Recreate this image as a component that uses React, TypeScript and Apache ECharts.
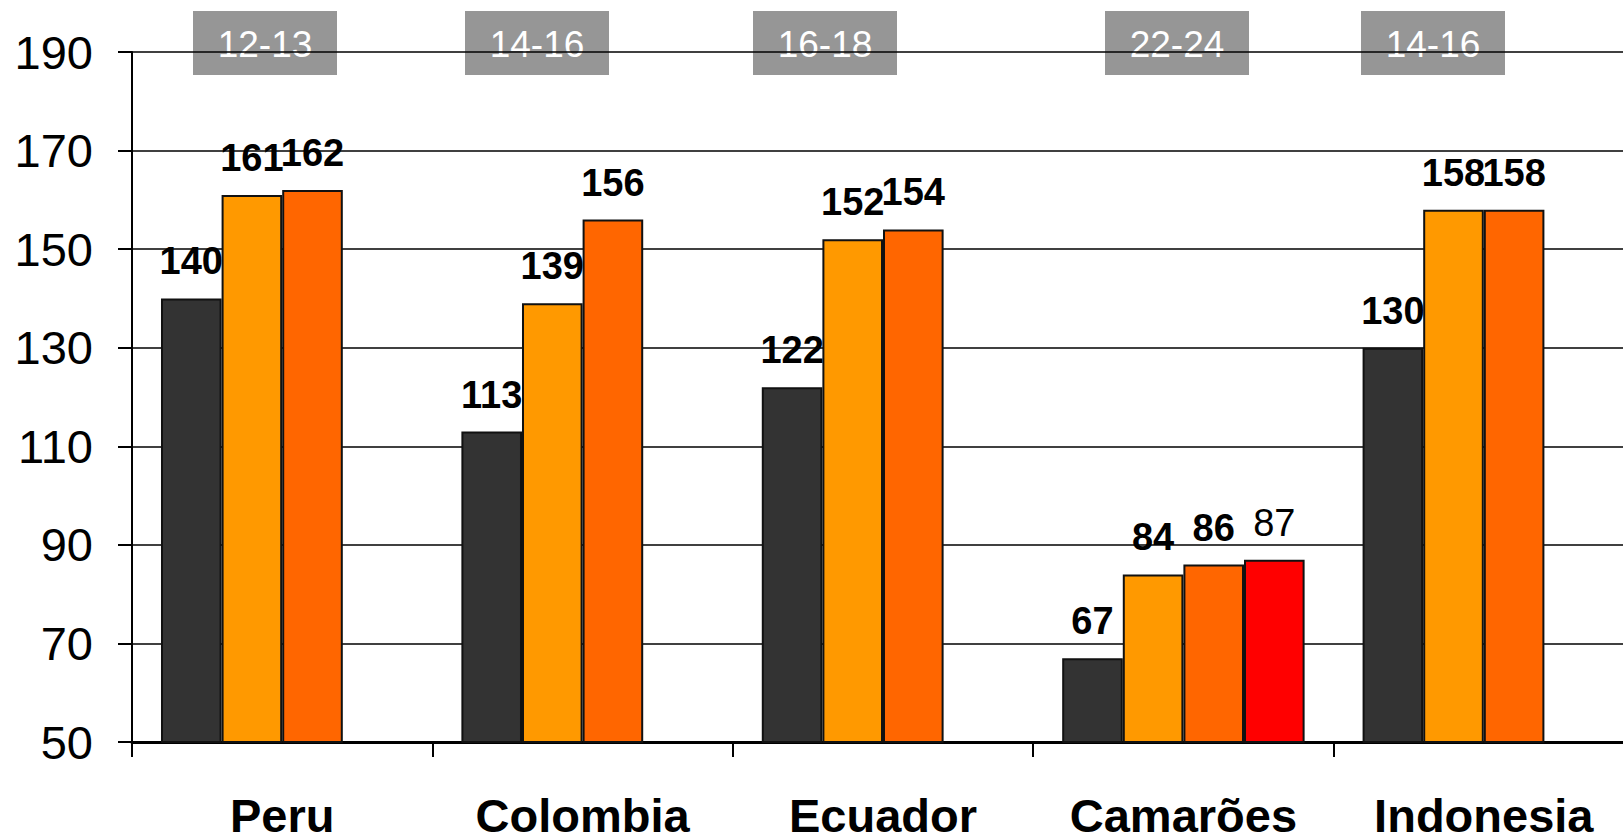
import React, { useEffect, useRef } from "react";
import * as echarts from "echarts";

const categories = ["Peru", "Colombia", "Ecuador", "Camarões", "Indonesia"];
const seriesA = [140, 113, 122, 67, 130];
const seriesB = [161, 139, 152, 84, 158];
const seriesC = [162, 156, 154, 86, 158];
const seriesD = [null, null, null, 87, null];
const rangeLabels = ["12-13", "14-16", "16-18", "22-24", "14-16"];
const rangeBoxX = [193, 465, 753, 1105, 1361];

export default function App() {
  const ref = useRef<HTMLDivElement>(null);
  useEffect(() => {
    if (!ref.current) return;
    const chart = echarts.init(ref.current, undefined, { renderer: "svg" });
    const FONT = "Liberation Sans, Arial, sans-serif";
    const labelBase = {
      show: true,
      position: "top",
      distance: 18,
      fontSize: 38,
      fontWeight: "bold",
      color: "#000",
      fontFamily: FONT,
    };
    const mk = (name: string, data: (number | null)[], color: string, bold = true) => ({
      name,
      type: "bar",
      data,
      barGap: "0%",
      barCategoryGap: "19.3%",
      itemStyle: { color, borderColor: "#111", borderWidth: 2 },
      label: { ...labelBase, fontWeight: bold ? "bold" : "normal" },
    });
    chart.setOption({
      animation: false,
      backgroundColor: "#fff",
      textStyle: { fontFamily: FONT },
      grid: { left: 132, top: 52, height: 693, width: 1502 },
      xAxis: {
        type: "category",
        data: categories,
        axisLine: { lineStyle: { color: "#000", width: 3 } },
        axisTick: { show: true, length: 15, lineStyle: { color: "#000", width: 2 } },
        axisLabel: {
          fontSize: 47,
          fontWeight: "bold",
          color: "#000",
          margin: 50,
          verticalAlign: "top",
          fontFamily: FONT,
        },
      },
      yAxis: {
        type: "value",
        min: 50,
        max: 190,
        interval: 20,
        axisLine: { show: true, lineStyle: { color: "#000", width: 2 } },
        axisTick: { show: true, length: 14, lineStyle: { color: "#000", width: 2 } },
        axisLabel: {
          fontSize: 47,
          color: "#000",
          margin: 39,
          fontFamily: FONT,
        },
        splitLine: { show: true, lineStyle: { color: "#000", width: 1.5 } },
      },
      series: [
        mk("A", seriesA, "#333333"),
        mk("B", seriesB, "#FF9900"),
        mk("C", seriesC, "#FF6600"),
        mk("D", seriesD, "#FF0000", false),
      ],
      graphic: rangeLabels.map((t, i) => ({
        type: "group",
        x: rangeBoxX[i],
        y: 11,
        z: 100,
        children: [
          { type: "rect", shape: { x: 0, y: 0, width: 144, height: 64 }, style: { fill: "#969696" } },
          {
            type: "text",
            x: 72,
            y: 33,
            style: {
              text: t,
              fill: "#ffffff",
              fontSize: 37,
              fontFamily: FONT,
              align: "center",
              verticalAlign: "middle",
            },
          },
        ],
      })),
    });
    return () => chart.dispose();
  }, []);
  return (
    <div style={{ position: "fixed", left: 0, top: 0, width: 1623, height: 839, overflow: "hidden", background: "#fff" }}>
      <div ref={ref} style={{ width: 1660, height: 839 }} />
    </div>
  );
}
